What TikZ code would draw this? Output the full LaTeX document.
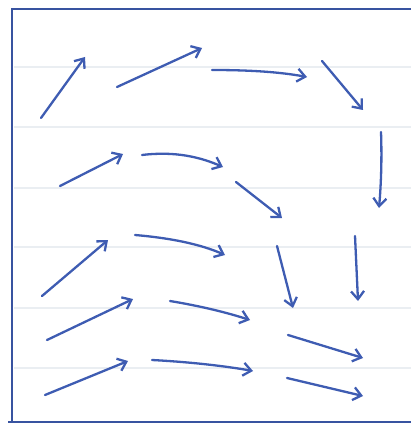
\documentclass[tikz,border=0pt]{standalone}
\usetikzlibrary{arrows.meta}
\definecolor{ink}{RGB}{62,92,178}
\definecolor{rule}{RGB}{234,238,242}
\begin{document}
\begin{tikzpicture}[
    x=1pt, y=-1pt,
    frame/.style={draw=ink!90!black, line width=2.4pt},
    ruled/.style={draw=rule, line width=1.2pt},
    pen/.style={draw=ink, line width=2.3pt, line cap=round,
        -{Straight Barb[length=8pt, width=13pt, line width=2.3pt]}}
]
\useasboundingbox (0,0) rectangle (411,427);

% ruled paper lines
\foreach \y in {67,127,188,247,308,368} {
    \draw[ruled] (14,\y) -- (411,\y);
}

% frame of the sheet
\draw[frame] (12,422) -- (12,9) -- (411,9);
\draw[frame] (8,422) -- (411,422);

% top row of the field
\draw[pen] (41,118) -- (85,57);
\draw[pen] (117,87) -- (202,48);
\draw[pen] (212,70) .. controls (250,70) and (280,72) .. (307,77);
\draw[pen] (322,61) -- (363,110);
\draw[pen] (381,132) .. controls (382,160) and (381,185) .. (379,208);

% second row
\draw[pen] (60,186) -- (123,154);
\draw[pen] (142,155) .. controls (175,151) and (200,157) .. (223,167);
\draw[pen] (236,182) -- (282,218);

% third row
\draw[pen] (42,296) -- (108,240);
\draw[pen] (135,235) .. controls (170,238) and (200,244) .. (225,255);
\draw[pen] (277,246) -- (293,308);
\draw[pen] (355,236) -- (358,301);

% fourth row
\draw[pen] (47,340) -- (133,299);
\draw[pen] (170,301) .. controls (200,306) and (225,312) .. (250,320);
\draw[pen] (288,335) -- (363,358);

% bottom row
\draw[pen] (45,395) -- (128,361);
\draw[pen] (152,360) .. controls (190,362) and (225,366) .. (253,371);
\draw[pen] (287,378) -- (363,396);

\end{tikzpicture}
\end{document}
